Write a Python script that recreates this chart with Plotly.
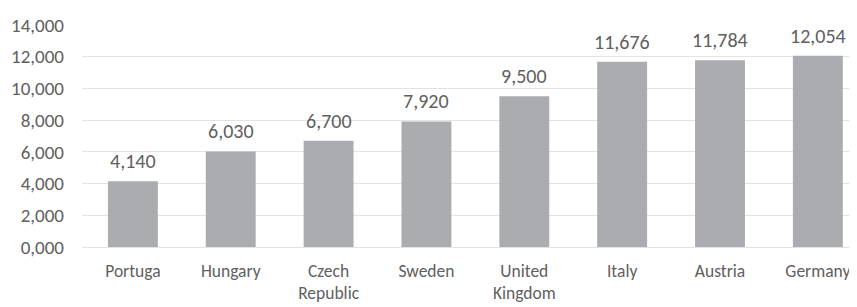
import plotly.graph_objects as go

categories = ["Portuga", "Hungary", "Czech<br>Republic", "Sweden", "United<br>Kingdom", "Italy", "Austria", "Germany"]
values = [4140, 6030, 6700, 7920, 9500, 11676, 11784, 12054]
value_labels = ["4,140", "6,030", "6,700", "7,920", "9,500", "11,676", "11,784", "12,054"]
tick_vals = [0, 2000, 4000, 6000, 8000, 10000, 12000, 14000]
tick_text = ["0,000", "2,000", "4,000", "6,000", "8,000", "10,000", "12,000", "14,000"]

FONT = "Carlito, Calibri, Lato, sans-serif"
TXT = "#606060"

fig = go.Figure()
fig.add_trace(go.Bar(
    x=list(range(len(categories))), y=values,
    marker=dict(color="#abacb0", line=dict(width=0)),
    width=0.51, hoverinfo="skip",
))
for i, (v, lab) in enumerate(zip(values, value_labels)):
    fig.add_annotation(x=i, y=v, text=lab, showarrow=False, yanchor="bottom", yshift=6,
                       font=dict(family=FONT, size=20, color=TXT))

fig.update_layout(
    width=849, height=299,
    margin=dict(l=74, r=0, t=17, b=60, autoexpand=False),
    paper_bgcolor="white", plot_bgcolor="white",
    showlegend=False,
    font=dict(family=FONT, size=19, color=TXT),
    bargap=0.49,
)
fig.update_xaxes(
    tickvals=list(range(len(categories))), ticktext=categories,
    range=[-0.52, 7.40], showgrid=False, zeroline=False, showline=False,
    ticks="", automargin=False, ticklabelstandoff=11,
    tickfont=dict(family=FONT, size=17.5, color=TXT),
)
fig.update_yaxes(
    range=[0, 14000], tickvals=tick_vals, ticktext=tick_text,
    showgrid=True, gridcolor="#e3e3e3", gridwidth=1,
    zeroline=True, zerolinecolor="#e3e3e3", zerolinewidth=1,
    showline=False, ticks="", ticklabelstandoff=17, automargin=False,
    tickfont=dict(family=FONT, size=19, color=TXT),
)
fig.write_html("out.html")
